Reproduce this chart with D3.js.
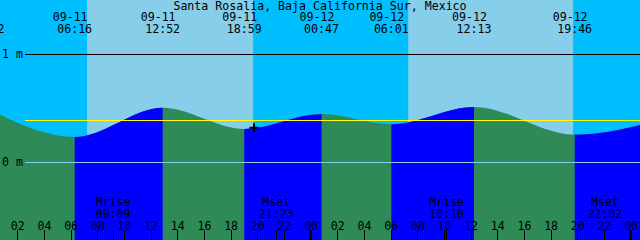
<!DOCTYPE html>
<html><head><meta charset="utf-8">
<script src="https://cdn.jsdelivr.net/npm/d3@7"></script>
<style>
body{margin:0;background:#00bfff;overflow:hidden}
svg{display:block}
text{font-family:"DejaVu Sans Mono",monospace;font-size:11.6px;fill:#000}
</style>
</head><body><svg id="c" width="640" height="240"></svg>
<script>
// ---- data ----
const title = "Santa Rosalia, Baja California Sur, Mexico";
const domainTimes = ["09-11 00:40", "09-13 00:40"];
const tideTimes = ["09-10 23:42","09-11 06:16","09-11 12:52","09-11 18:59","09-12 00:47","09-12 06:01","09-12 12:13","09-12 19:46","09-13 01:52"];
const tideHeights = [0.50, 0.236, 0.507, 0.31, 0.449, 0.354, 0.514, 0.257, 0.385];
const sunriseTimes = ["09-11 07:12","09-12 07:17"];
const sunsetTimes  = ["09-11 19:39","09-12 19:39"];
const moonNames = ["Mrise","Mset","Mrise","Mset"];
const moonTimes = ["09-11 09:09","09-11 21:23","09-12 10:10","09-12 22:02"];
const levelLines = [1, 0];            // "1 m", "0 m"
const levelLabels = ["1 m", "0 m"];
const meanLevel = 0.389;
const nowTime = "09-11 19:43";
const nowHeight = 0.321;

// ---- setup ----
const W = 640, H = 240;
const parse = d3.utcParse("%m-%d %H:%M");
const svg = d3.select("#c");
const x = d3.scaleUtc().domain(domainTimes.map(parse)).range([0, W]);
const y = d3.scaleLinear().domain([0, 1]).range([162.5, 54.5]);

const colors = {night:"#00bfff", day:"#87ceeb", flood:"#0000ff", ebb:"#2e8b57", mean:"#ffff00", zero:"#87ceeb", text:"#000"};

// background night
svg.append("rect").attr("x",0).attr("y",0).attr("width",W).attr("height",H).attr("fill",colors.night);
// daylight
svg.selectAll("rect.day").data(d3.zip(sunriseTimes, sunsetTimes)).join("rect")
  .attr("class","day")
  .attr("x", d => x(parse(d[0])))
  .attr("width", d => x(parse(d[1])) - x(parse(d[0])))
  .attr("y", 0).attr("height", H).attr("fill", colors.day);

// tide curve
const tide = tideTimes.map((t,i) => ({t: parse(t), h: tideHeights[i]}));
const area = d3.area().x(d => x(d.t)).y0(H).y1(d => y(d.h)).curve(d3.curveMonotoneX);
const defs = svg.append("defs");
svg.append("path").attr("d", area(tide)).attr("fill", colors.ebb);
for (let i = 0; i < tide.length - 1; i++) {
  if (tide[i+1].h > tide[i].h) {
    const id = "clip" + i;
    defs.append("clipPath").attr("id", id).append("rect")
      .attr("x", x(tide[i].t)).attr("y", 0)
      .attr("width", x(tide[i+1].t) - x(tide[i].t)).attr("height", H);
    svg.append("path").attr("d", area(tide)).attr("fill", colors.flood).attr("clip-path", `url(#${id})`);
  }
}

// level lines
svg.append("line").attr("x1",25).attr("x2",W).attr("y1",y(levelLines[0])).attr("y2",y(levelLines[0]))
  .attr("stroke","#000").attr("stroke-width",1).attr("shape-rendering","crispEdges");
svg.append("line").attr("x1",25).attr("x2",W).attr("y1",y(levelLines[1])).attr("y2",y(levelLines[1]))
  .attr("stroke",colors.zero).attr("stroke-width",1).attr("shape-rendering","crispEdges");
svg.append("line").attr("x1",25).attr("x2",W).attr("y1",y(meanLevel)).attr("y2",y(meanLevel))
  .attr("stroke",colors.mean).attr("stroke-width",1).attr("shape-rendering","crispEdges");
levelLines.forEach((v,i) => {
  svg.append("text").attr("x",2).attr("y", y(v) + 3.5).text(levelLabels[i]);
});

// now marker
const nx = x(parse(nowTime)), ny = y(nowHeight);
svg.append("path").attr("d", `M${nx-4.5},${ny}H${nx+4.5}M${nx},${ny-4.5}V${ny+4.5}`)
  .attr("stroke","#000").attr("stroke-width",2).attr("fill","none");

// title
svg.append("text").attr("x", 320).attr("y", 10).attr("text-anchor","middle").text(title);

// tide event labels (events up to the end of the window)
const fmtDate = d3.utcFormat("%m-%d"), fmtTime = d3.utcFormat("%H:%M");
const endT = x.domain()[1];
tide.filter(d => d.t <= endT).forEach(d => {
  const cx = x(d.t);
  svg.append("text").attr("x", cx - 4.5).attr("y", 21).attr("text-anchor","middle").text(fmtDate(d.t));
  svg.append("text").attr("x", cx).attr("y", 33).attr("text-anchor","middle").text(fmtTime(d.t));
});

// moon events
moonTimes.forEach((t,i) => {
  const d = parse(t), cx = x(d);
  svg.append("text").attr("x", cx).attr("y", 206).attr("text-anchor","middle").text(moonNames[i]);
  svg.append("text").attr("x", cx).attr("y", 218).attr("text-anchor","middle").text(fmtTime(d));
  svg.append("rect").attr("x", Math.floor(cx)).attr("y", 230).attr("width", 1).attr("height", 10).attr("fill","#000");
});

// hour ticks
const hours = x.ticks(d3.utcHour.every(2));
const fmtHour = d3.utcFormat("%H");
hours.forEach(d => {
  const cx = x(d);
  const midnight = d.getUTCHours() === 0;
  svg.append("rect").attr("x", midnight ? Math.round(cx) - 2 : Math.floor(cx)).attr("y", 230)
    .attr("width", midnight ? 3 : 1).attr("height", 10).attr("fill", "#000");
  svg.append("text").attr("x", cx).attr("y", 230).attr("text-anchor","middle").text(fmtHour(d));
});
</script>
</body></html>
